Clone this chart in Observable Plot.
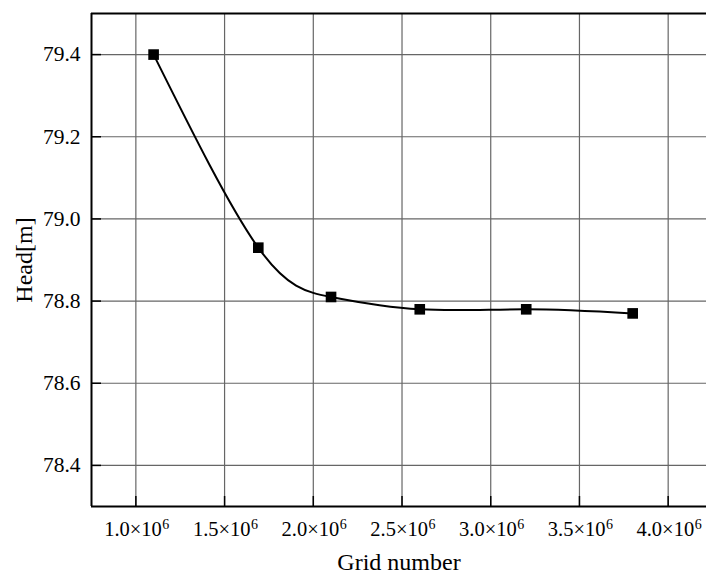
<!DOCTYPE html>
<html><head><meta charset="utf-8">
<script src="https://cdn.jsdelivr.net/npm/d3@7"></script>
<script src="https://cdn.jsdelivr.net/npm/@observablehq/plot@0.6"></script>
<style>
body{margin:0;background:#fff;}
svg{display:block;}
#chart svg text{font-family:"Liberation Serif","Times New Roman",serif !important;fill:#000;}
</style>
</head><body><div id="chart"></div>
<script>
const gridNumber = [1.1e6, 1.69e6, 2.1e6, 2.6e6, 3.2e6, 3.8e6];
const head = [79.40, 78.93, 78.81, 78.78, 78.78, 78.77];
const xTicks = [1.0e6, 1.5e6, 2.0e6, 2.5e6, 3.0e6, 3.5e6, 4.0e6];
const xTickBase = ["1.0×10", "1.5×10", "2.0×10", "2.5×10", "3.0×10", "3.5×10", "4.0×10"];
const xTickExp = ["6", "6", "6", "6", "6", "6", "6"];
const yTicks = [78.4, 78.6, 78.8, 79.0, 79.2, 79.4];
const xDomain = [0.75e6, 4.216e6];
const yDomain = [78.3, 79.5];

const data = gridNumber.map((g, i) => ({g, h: head[i]}));

const chart = Plot.plot({
  width: 706, height: 577,
  marginLeft: 91, marginTop: 13, marginBottom: 71, marginRight: 0,
  style: {background: "#fff"},
  x: {domain: xDomain},
  y: {domain: yDomain},
  marks: [
    Plot.gridX(xTicks, {stroke: "#666", strokeOpacity: 1, strokeWidth: 1.2}),
    Plot.gridY(yTicks, {stroke: "#666", strokeOpacity: 1, strokeWidth: 1.2}),
    Plot.axisX({ticks: xTicks, tickSize: -10, strokeWidth: 1.5, tickFormat: () => "", label: null}),
    Plot.text(xTicks, {x: d => d, frameAnchor: "bottom", text: (d, i) => xTickBase[i],
      textAnchor: "end", lineAnchor: "top", dx: 26, dy: 15, fontSize: 20.5}),
    Plot.text(xTicks, {x: d => d, frameAnchor: "bottom", text: (d, i) => xTickExp[i],
      textAnchor: "start", lineAnchor: "top", dx: 26.5, dy: 13, fontSize: 14}),
    Plot.axisY({ticks: yTicks, tickSize: -10, tickPadding: 21, strokeWidth: 1.5,
      tickFormat: d => d.toFixed(1), label: null, fontSize: 21.5}),
    Plot.ruleX([xDomain[0]], {stroke: "#000", strokeWidth: 2}),
    Plot.ruleY([yDomain[0]], {stroke: "#000", strokeWidth: 2}),
    Plot.ruleY([yDomain[1]], {stroke: "#000", strokeWidth: 2}),
    Plot.line(data, {x: "g", y: "h", curve: "natural", stroke: "#000", strokeWidth: 2}),
    Plot.dot(data, {x: "g", y: "h", symbol: "square", r: 6, fill: "#000", stroke: "none"}),
    Plot.text(["Grid number"], {frameAnchor: "bottom", textAnchor: "middle", lineAnchor: "middle", dy: 56, fontSize: 24}),
    Plot.text(["Head[m]"], {frameAnchor: "left", textAnchor: "middle", lineAnchor: "middle", dx: -67, rotate: -90, fontSize: 24})
  ]
});
document.getElementById("chart").appendChild(chart);
</script></body></html>
